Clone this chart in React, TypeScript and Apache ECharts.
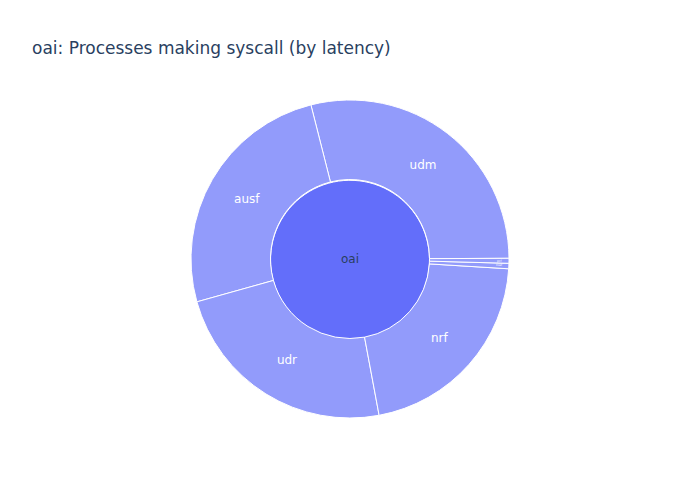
import React, { useEffect, useRef } from "react";
import * as echarts from "echarts";

const title = "oai: Processes making syscall (by latency)";
const rootName = "oai";
const processNames = ["udm", "ausf", "udr", "nrf", "nssf", "pcf"];
const processValues = [28.9, 25.4, 23.6, 21.1, 0.55, 0.5];

export default function App() {
  const ref = useRef<HTMLDivElement>(null);
  useEffect(() => {
    if (!ref.current) return;
    const chart = echarts.init(ref.current, null, { renderer: "svg" });
    const children = processNames.map((n, i) => {
      const small = processValues[i] < 2;
      return {
        name: n,
        value: processValues[i],
        label: small
          ? { fontSize: 3, color: "#ffffff", rotate: 0, padding: [0, 0, 0, 60] }
          : undefined,
      };
    });
    const font = "DejaVu Sans, Verdana, sans-serif";
    chart.setOption({
      animation: false,
      backgroundColor: "#ffffff",
      title: {
        text: title,
        left: 27,
        top: 34,
        textStyle: {
          fontFamily: font,
          fontSize: 17,
          fontWeight: "normal",
          color: "#2a3f5f",
        },
      },
      series: [
        {
          type: "sunburst",
          center: [350, 259],
          radius: [0, 159],
          startAngle: 0.25,
          clockwise: false,
          sort: "desc",
          nodeClick: false,
          emphasis: { focus: "none" },
          itemStyle: { borderColor: "#ffffff", borderWidth: 1 },
          label: { fontFamily: font, fontSize: 12, rotate: 0 },
          levels: [
            {},
            {
              r0: 0,
              r: 79.5,
              itemStyle: { color: "#636efa", borderColor: "#ffffff", borderWidth: 1 },
              label: { color: "#2a3f5f", rotate: 0, padding: [0, 0, 0, 79.5] },
            },
            {
              r0: 79.5,
              r: 159,
              itemStyle: { color: "#929bfb", borderColor: "#ffffff", borderWidth: 1 },
              label: { color: "#ffffff", rotate: 0 },
            },
          ],
          data: [{ name: rootName, children }],
        },
      ],
    });
    return () => chart.dispose();
  }, []);
  return <div ref={ref} style={{ width: 700, height: 500, margin: -8 }} />;
}
